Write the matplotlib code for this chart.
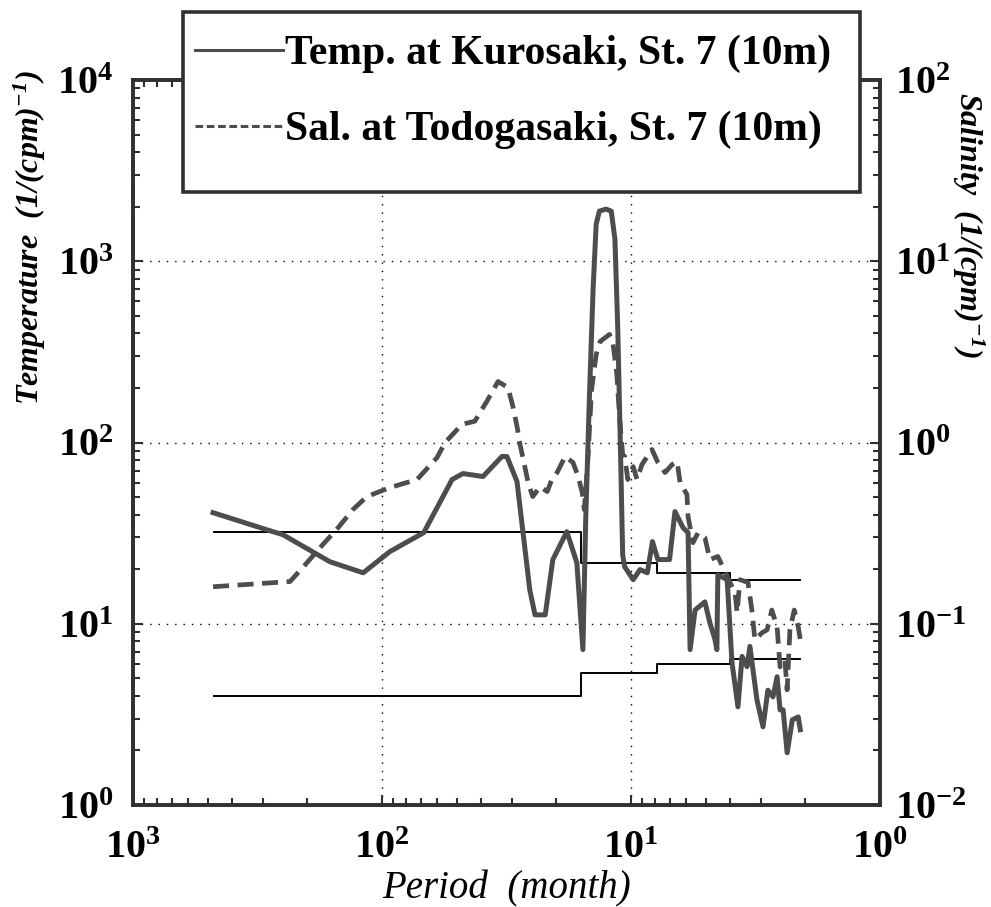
import matplotlib
matplotlib.use("Agg")
import matplotlib.pyplot as plt
from matplotlib.lines import Line2D
from matplotlib.patches import Rectangle
from matplotlib.ticker import LogLocator, NullFormatter

plt.rcParams['font.family'] = ['Liberation Serif', 'DejaVu Serif']
plt.rcParams['font.weight'] = 'bold'
plt.rcParams['mathtext.fontset'] = 'custom'
plt.rcParams['mathtext.rm'] = 'Liberation Serif:bold'
plt.rcParams['mathtext.it'] = 'Liberation Serif:italic:bold'
plt.rcParams['mathtext.bf'] = 'Liberation Serif:bold'
plt.rcParams['mathtext.bfit'] = 'Liberation Serif:italic:bold'

# ---- data ----
# temperature spectrum, Kurosaki St. 7 (10m)
temp_period = [477, 290, 250, 162, 119, 93, 68, 52.3, 47.3, 39.3, 33, 31.5, 28.7, 25.5,
               24.3, 22.1, 20.6, 18.1, 16.5, 15.6, 15.2, 14.7, 14.2, 13.8, 13.4, 12.6,
               12.0, 11.6, 11.3, 11.0, 10.8, 10.6, 9.8, 9.2, 8.6, 8.2, 7.8, 7.0, 6.66,
               6.18, 5.9, 5.79, 5.53, 5.05, 4.82, 4.6, 4.52, 4.48, 4.11, 3.93, 3.72,
               3.58, 3.42, 3.33, 3.12, 2.95, 2.82, 2.69, 2.59, 2.52, 2.45, 2.36, 2.25,
               2.13, 2.09]
temp_power = [41, 33, 31, 22, 19.1, 25, 31.8, 62.5, 67.4, 64.9, 83.7, 83.7, 60.9, 15.4,
              11.2, 11.2, 22.6, 32.2, 21.7, 7.2, 37.6, 173, 700, 1600, 1890, 1940,
              1890, 1320, 421, 80.5, 24, 20.6, 17.5, 19.9, 19.1, 28.4, 22.6, 22.6, 41.6,
              33.9, 31.8, 7.2, 11.9, 13.2, 10.1, 8.2, 7.2, 18.6, 17.5, 6.1, 3.48,
              6.6, 5.8, 7.5, 3.8, 2.7, 4.3, 3.95, 5.1, 3.35, 3.35, 1.94, 2.95,
              3.06, 2.6]

# salinity spectrum, Todogasaki St. 7 (10m)
sal_period = [477, 234, 207, 173, 150, 131, 115, 93, 72.3, 60.1, 55.8, 47.7, 42.4, 37.9,
              34.2, 31.2, 29.8, 28.7, 27.9, 26.7, 25.9, 24.8, 23.2, 21.7, 20.8, 19.8,
              18.4, 17.1, 16.3, 15.7, 15.4, 14.9, 14.4, 13.8, 13.3, 12.2, 11.8, 11.4,
              11.1, 10.8, 10.6, 10.3, 9.8, 9.46, 9.04, 8.24, 7.8, 7.3, 6.84, 6.53, 6.35,
              5.96, 5.9, 5.64, 5.38, 5.05, 4.82, 4.48, 4.28, 4.11, 3.82, 3.75, 3.65,
              3.39, 3.27, 3.18, 2.98, 2.84, 2.72, 2.59, 2.52, 2.41, 2.36, 2.3, 2.21,
              2.13, 2.09]
sal_power = [0.16, 0.171, 0.206, 0.273, 0.339, 0.426, 0.503, 0.564, 0.625, 0.826, 1.0,
             1.26, 1.31, 1.69, 2.17, 2.01, 1.58, 1.23, 0.975, 0.736, 0.601, 0.503,
             0.571, 0.536, 0.625, 0.683, 0.837, 0.776, 0.649, 0.529, 0.426, 0.805,
             1.96, 3.06, 3.61, 3.95, 3.48, 2.38, 1.34, 0.858, 0.837, 0.625, 0.736,
             0.625, 0.755, 0.915, 0.776, 0.683, 0.755, 0.785, 0.601, 0.516, 0.39,
             0.28, 0.318, 0.299, 0.226, 0.235, 0.206, 0.182, 0.148, 0.115, 0.175,
             0.169, 0.119, 0.0816, 0.0891, 0.0926, 0.119, 0.0962, 0.0578, 0.0633,
             0.0432, 0.0926, 0.119, 0.0962, 0.0816]

# confidence limits (step lines)
ci_period = [475, 15.9, 7.87, 4.0, 2.09]
ci_upper = [32.2, 21.7, 19.1, 17.5, 17.5]
ci_lower = [4.0, 5.35, 6.0, 6.4, 6.4]

line_col = '#4d4d4d'
edge_col = '#303030'

fig = plt.figure(figsize=(9.91, 9.07), dpi=100)
ax = fig.add_axes([133 / 991, 1 - 805 / 907, 747 / 991, 725 / 907])
ax2 = ax.twinx()

ax.set_xscale('log')
ax.set_yscale('log')
ax2.set_yscale('log')
ax.set_xlim(1e3, 1e0)
ax.set_ylim(1e0, 1e4)
ax2.set_ylim(1e-2, 1e2)

ax.grid(True, which='major', linestyle=(0, (1, 5)), color='black', linewidth=1.0)
ax.set_axisbelow(True)

ax.step(ci_period, ci_upper, where='post', color='black', lw=1.4, zorder=2)
ax.step(ci_period, ci_lower, where='post', color='black', lw=1.4, zorder=2)
ax.plot(temp_period, temp_power, color=line_col, lw=3.6, solid_joinstyle='round', zorder=3)
ax2.plot(sal_period, sal_power, color=line_col, lw=3.4, dashes=(3.4, 1.8), zorder=3)

# ticks
for a in (ax, ax2):
    a.yaxis.set_major_locator(LogLocator(base=10, numticks=10))
    a.yaxis.set_minor_locator(LogLocator(base=10, subs=range(2, 10), numticks=20))
    a.yaxis.set_minor_formatter(NullFormatter())
ax.xaxis.set_minor_locator(LogLocator(base=10, subs=range(2, 10), numticks=20))
ax.xaxis.set_minor_formatter(NullFormatter())

ax.tick_params(which='both', direction='in', top=True, right=False, width=1.5, color=edge_col)
ax.tick_params(which='major', length=7, labelsize=29)
ax.tick_params(axis='y', which='major', pad=14)
ax.tick_params(axis='x', which='major', pad=18)
ax.tick_params(which='minor', length=5)
ax2.tick_params(which='both', direction='in', width=1.5, color=edge_col)
ax2.tick_params(which='major', length=7, labelsize=29, pad=11)
ax2.tick_params(which='minor', length=5)

for a in (ax, ax2):
    for s in a.spines.values():
        s.set_linewidth(2.6)
        s.set_color(edge_col)

ax.set_xlabel('Period  (month)', fontsize=28, fontstyle='italic', fontweight='normal', va='center')
ax.xaxis.set_label_coords(0.5, -0.116)
ax.set_ylabel(r'Temperature  (1/(cpm)$^{\mathbfit{-1}}$)', fontsize=23, fontstyle='italic',
              fontweight='bold', va='center')
ax.yaxis.set_label_coords(-0.138, 0.783)
ax2.set_ylabel(r'Salinity  (1/(cpm)$^{\mathbfit{-1}}$)', fontsize=23, fontstyle='italic',
               fontweight='bold', rotation=270, va='center')
ax2.yaxis.set_label_coords(1.118, 0.80)

# legend box sitting over the top of the axes
box = Rectangle((183 / 991, 1 - 192 / 907), (860 - 183) / 991, (192 - 12) / 907,
                transform=fig.transFigure, facecolor='white', edgecolor=edge_col,
                linewidth=2.6, zorder=5)
fig.patches.append(box)
handles = [Line2D([], [], color=line_col, lw=2.2),
           Line2D([], [], color=line_col, lw=2.2, dashes=(2.5, 1.2))]
labels = ['Temp. at Kurosaki, St. 7 (10m)', 'Sal. at Todogasaki, St. 7 (10m)']
leg = fig.legend(handles, labels, loc='upper left', bbox_to_anchor=(195 / 991, 1 - 35 / 907),
                 frameon=False, fontsize=30, handlelength=2.1, handletextpad=0.05,
                 labelspacing=0.9, borderpad=0, borderaxespad=0)
leg.set_zorder(6)

plt.savefig('out.png', dpi=100)
plt.close()
